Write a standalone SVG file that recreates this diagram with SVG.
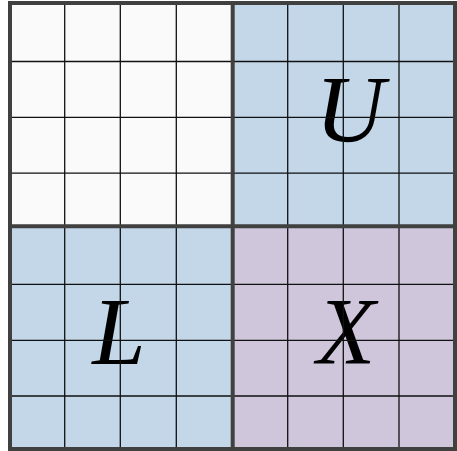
<svg xmlns="http://www.w3.org/2000/svg" width="457" height="451" viewBox="0 0 457 451">
<style>
.thin{stroke:#111;stroke-width:1.3;fill:none}
.thick{stroke:#404040;stroke-width:4;fill:none}
.lbl{font-family:"Liberation Serif",serif;font-style:italic;font-size:96px;fill:#000;text-anchor:middle}
</style>
<rect width="457" height="451" fill="#ffffff"/>
<g id="A11"><rect x="10" y="3" width="222.7" height="223.3" fill="#fafafa"/></g>
<g id="U"><rect x="232.7" y="3" width="222.3" height="223.3" fill="#c3d7e8"/><text class="lbl" x="350" y="142">U</text></g>
<g id="L"><rect x="10" y="226.3" width="222.7" height="222.7" fill="#c3d7e8"/><text class="lbl" x="119" y="364">L</text></g>
<g id="X"><rect x="232.7" y="226.3" width="222.3" height="222.7" fill="#cfc6dc"/><text class="lbl" x="346" y="364">X</text></g>
<g id="connectors">
<path class="thin" d="M64.7 3V449M120.3 3V449M176.3 3V449M287.7 3V449M343.3 3V449M399 3V449"/>
<path class="thin" d="M10 61.5H455M10 117.3H455M10 173.2H455M10 284.3H455M10 340.3H455M10 396H455"/>
<path class="thick" d="M232.7 3V449M10 226.3H455"/>
<rect class="thick" x="10" y="3" width="445" height="446"/>
</g>
</svg>
